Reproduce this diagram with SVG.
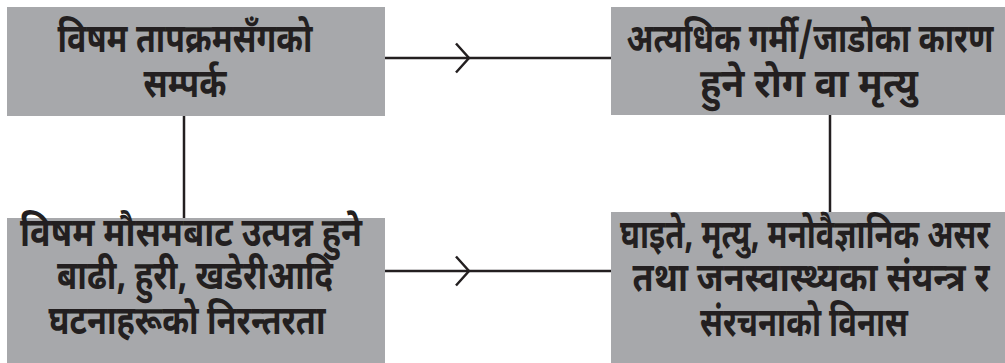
<svg xmlns="http://www.w3.org/2000/svg" width="1005" height="363" viewBox="0 0 1005 363">
<style>
.box{fill:#a7a8ab}
.t{font-family:"Noto Sans Devanagari","Noto Sans","Lohit Devanagari","FreeSans",sans-serif;font-weight:bold;font-size:40px;fill:#231f20;text-anchor:middle}
.c{stroke:#231f20;stroke-width:2.5;fill:none}
</style>
<rect width="1005" height="363" fill="#ffffff"/>
<g id="connectors">
<line class="c" x1="383" y1="58" x2="612" y2="58"/>
<polyline class="c" points="456,43.5 469,58 456,72.5"/>
<line class="c" x1="383" y1="271" x2="612" y2="271"/>
<polyline class="c" points="456,256.5 469,271 456,285.5"/>
<line class="c" x1="184" y1="115" x2="184" y2="219"/>
<line class="c" x1="830" y1="113" x2="830" y2="213"/>
</g>
<g id="node1">
<rect class="box" x="7" y="7" width="378" height="109"/>
<text class="t" x="185" y="52" textLength="255" lengthAdjust="spacingAndGlyphs">विषम तापक्रमसँगको</text>
<text class="t" x="185" y="97" textLength="83" lengthAdjust="spacingAndGlyphs">सम्पर्क</text>
</g>
<g id="node2">
<rect class="box" x="611" y="7" width="394" height="108"/>
<text class="t" x="810" y="52" textLength="367" lengthAdjust="spacingAndGlyphs">अत्यधिक गर्मी/जाडोका कारण</text>
<text class="t" x="809" y="97" textLength="218" lengthAdjust="spacingAndGlyphs">हुने रोग वा मृत्यु</text>
</g>
<g id="node3">
<rect class="box" x="7" y="218" width="378" height="145"/>
<text class="t" x="191" y="246" textLength="342" lengthAdjust="spacingAndGlyphs">विषम मौसमबाट उत्पन्न हुने</text>
<text class="t" x="195" y="289" textLength="276" lengthAdjust="spacingAndGlyphs">बाढी, हुरी, खडेरीआदि</text>
<text class="t" x="187" y="334" textLength="277" lengthAdjust="spacingAndGlyphs">घटनाहरूको निरन्तरता</text>
</g>
<g id="node4">
<rect class="box" x="611" y="212" width="394" height="151"/>
<text class="t" x="805" y="248" textLength="370" lengthAdjust="spacingAndGlyphs">घाइते, मृत्यु, मनोवैज्ञानिक असर</text>
<text class="t" x="811" y="291" textLength="357" lengthAdjust="spacingAndGlyphs">तथा जनस्वास्थ्यका संयन्त्र र</text>
<text class="t" x="804" y="336" textLength="208" lengthAdjust="spacingAndGlyphs">संरचनाको विनास</text>
</g>
</svg>
